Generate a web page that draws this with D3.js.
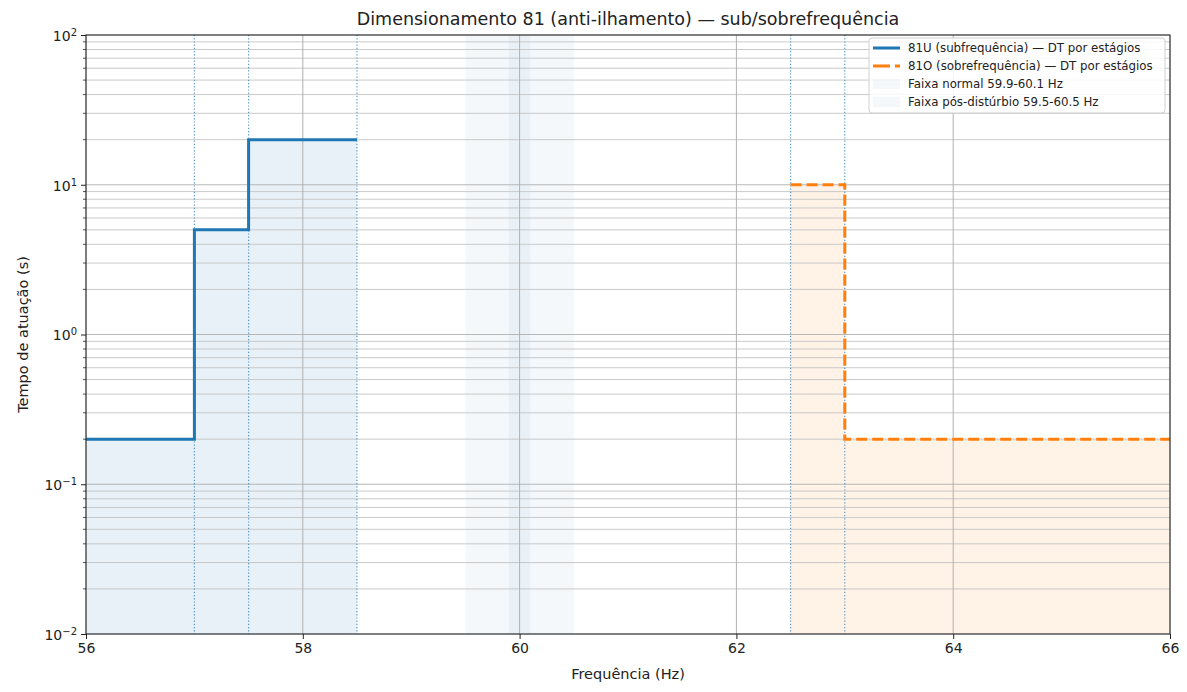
<!DOCTYPE html>
<html>
<head>
<meta charset="utf-8">
<script src="https://cdn.jsdelivr.net/npm/d3@7"></script>
<style>
  body { margin: 0; background: #fff; }
  svg { font-family: "DejaVu Sans", sans-serif; }
</style>
</head>
<body>
<svg id="chart" width="1187" height="692"></svg>
<script>
// Under-frequency stages (81U): [frequency start, frequency end, time (s)]
const underStages = [
  [56.0, 57.0, 0.2],
  [57.0, 57.5, 5],
  [57.5, 58.5, 20]
];
// Over-frequency stages (81O)
const overStages = [
  [62.5, 63.0, 10],
  [63.0, 66.0, 0.2]
];
// Stage boundaries drawn as dotted markers
const stageMarkers = [57.0, 57.5, 58.5, 62.5, 63.0];
// Reference bands
const bandNormal = [59.9, 60.1];
const bandPost = [59.5, 60.5];
const xTicks = [56, 58, 60, 62, 64, 66];
const yDecades = [-2, -1, 0, 1, 2];
const legendLabels = [
  "81U (subfrequência) — DT por estágios",
  "81O (sobrefrequência) — DT por estágios",
  "Faixa normal 59.9-60.1 Hz",
  "Faixa pós-distúrbio 59.5-60.5 Hz"
];

const C0 = "#1f77b4", C1 = "#ff7f0e";
const margin = { left: 86, right: 17, top: 35, bottom: 58 };
const W = 1187, H = 692;
const svg = d3.select("#chart");

const x = d3.scaleLinear().domain([56, 66]).range([margin.left, W - margin.right]);
const y = d3.scaleLog().domain([0.01, 100]).range([H - margin.bottom, margin.top]);

// Step points from stages
function stepPoints(stages) {
  const pts = [];
  stages.forEach(s => { pts.push([s[0], s[2]]); pts.push([s[1], s[2]]); });
  return pts;
}
const underPts = stepPoints(underStages);
const overPts = stepPoints(overStages);

const g = svg.append("g");

// Fill under step curves
const area = d3.area().x(d => x(d[0])).y0(y(0.01)).y1(d => y(d[1]));
g.append("path").datum(underPts).attr("d", area).attr("fill", C0).attr("fill-opacity", 0.1);
g.append("path").datum(overPts).attr("d", area).attr("fill", C1).attr("fill-opacity", 0.1);

// Bands
[bandPost, bandNormal].forEach(b => {
  g.append("rect")
    .attr("x", x(b[0])).attr("width", x(b[1]) - x(b[0]))
    .attr("y", y(100)).attr("height", y(0.01) - y(100))
    .attr("fill", C0).attr("fill-opacity", 0.05);
});

// Grid: y major + minor
const minorVals = [];
for (let e = -2; e < 2; e++) for (let m = 1; m <= 9; m++) minorVals.push(m * Math.pow(10, e));
minorVals.push(100);
const isDecade = v => yDecades.some(e => Math.abs(Math.log10(v) - e) < 1e-9);
g.append("g").selectAll("line").data(minorVals).join("line")
  .attr("x1", x(56)).attr("x2", x(66))
  .attr("y1", d => y(d)).attr("y2", d => y(d))
  .attr("stroke", d => isDecade(d) ? "#b0b0b0" : "#c4c4c4")
  .attr("stroke-width", 1).attr("stroke-opacity", 0.9);
// Grid: x major
g.append("g").selectAll("line").data(xTicks).join("line")
  .attr("x1", d => x(d)).attr("x2", d => x(d))
  .attr("y1", y(100)).attr("y2", y(0.01))
  .attr("stroke", "#b0b0b0").attr("stroke-width", 1);

// Stage markers
g.append("g").selectAll("line").data(stageMarkers).join("line")
  .attr("x1", d => x(d)).attr("x2", d => x(d))
  .attr("y1", y(100)).attr("y2", y(0.01))
  .attr("stroke", C0).attr("stroke-width", 1.2).attr("stroke-dasharray", "1.2,2")
  .attr("stroke-opacity", 0.75);

// Step lines
const line = d3.line().x(d => x(d[0])).y(d => y(d[1]));
g.append("path").datum(underPts).attr("d", line).attr("fill", "none")
  .attr("stroke", C0).attr("stroke-width", 3);
g.append("path").datum(overPts).attr("d", line).attr("fill", "none")
  .attr("stroke", C1).attr("stroke-width", 3).attr("stroke-dasharray", "11,5");

// Spines
g.append("rect").attr("x", x(56)).attr("y", y(100))
  .attr("width", x(66) - x(56)).attr("height", y(0.01) - y(100))
  .attr("fill", "none").attr("stroke", "#222").attr("stroke-width", 1);

// X axis
const xAxis = d3.axisBottom(x).tickValues(xTicks).tickSize(5).tickPadding(4).tickFormat(d3.format("d"));
const xg = svg.append("g").attr("transform", `translate(0,${y(0.01)})`).call(xAxis);
xg.select(".domain").remove();
xg.selectAll("text").attr("font-size", 14).attr("fill", "#222").attr("font-family", "DejaVu Sans");
xg.selectAll("line").attr("stroke", "#222");

// Y axis: major ticks with superscript labels
const yAxis = d3.axisLeft(y).tickValues(yDecades.map(e => Math.pow(10, e))).tickSize(5).tickPadding(4).tickFormat("");
const yg = svg.append("g").attr("transform", `translate(${x(56)},0)`).call(yAxis);
yg.select(".domain").remove();
yg.selectAll("line").attr("stroke", "#222");
yg.selectAll(".tick").each(function(d) {
  const t = d3.select(this).append("text").attr("x", -9).attr("dy", "0.38em")
    .attr("text-anchor", "end").attr("fill", "#222").attr("font-size", 14).attr("font-family", "DejaVu Sans");
  const e = Math.round(Math.log10(d));
  t.append("tspan").text("10");
  t.append("tspan").attr("dy", "-0.5em").attr("font-size", 10).text(e < 0 ? "\u2212" + (-e) : String(e));
});
// Y minor ticks
svg.append("g").selectAll("line").data(minorVals.filter(v => !isDecade(v)))
  .join("line")
  .attr("x1", x(56) - 3).attr("x2", x(56))
  .attr("y1", d => y(d)).attr("y2", d => y(d))
  .attr("stroke", "#222").attr("stroke-width", 0.8);

// Axis titles
svg.append("text").attr("x", (x(56) + x(66)) / 2).attr("y", 679).attr("text-anchor", "middle")
  .attr("font-size", 14.5).attr("fill", "#222").text("Frequência (Hz)");
svg.append("text").attr("transform", `translate(28,${(y(100) + y(0.01)) / 2}) rotate(-90)`)
  .attr("text-anchor", "middle").attr("font-size", 14.5).attr("fill", "#222").text("Tempo de atuação (s)");
svg.append("text").attr("x", (x(56) + x(66)) / 2).attr("y", 25).attr("text-anchor", "middle")
  .attr("font-size", 17.5).attr("fill", "#222").text("Dimensionamento 81 (anti-ilhamento) — sub/sobrefrequência");

// Legend
const lg = svg.append("g").attr("transform", "translate(869,38)");
lg.append("rect").attr("width", 296).attr("height", 75).attr("rx", 3)
  .attr("fill", "#fff").attr("fill-opacity", 0.85).attr("stroke", "#d0d0d0");
const rowY = [10, 28, 46, 64];
legendLabels.forEach((lab, i) => {
  const ry = rowY[i];
  if (i === 0) {
    lg.append("line").attr("x1", 4).attr("x2", 31).attr("y1", ry).attr("y2", ry)
      .attr("stroke", C0).attr("stroke-width", 3);
  } else if (i === 1) {
    lg.append("line").attr("x1", 4).attr("x2", 31).attr("y1", ry).attr("y2", ry)
      .attr("stroke", C1).attr("stroke-width", 3).attr("stroke-dasharray", "17,5");
  } else {
    lg.append("rect").attr("x", 4).attr("y", ry - 5).attr("width", 27).attr("height", 10)
      .attr("fill", C0).attr("fill-opacity", 0.05);
  }
  lg.append("text").attr("x", 39).attr("y", ry).attr("dy", "0.35em")
    .attr("font-size", 11.8).attr("fill", "#222").text(lab);
});
</script>
</body>
</html>
